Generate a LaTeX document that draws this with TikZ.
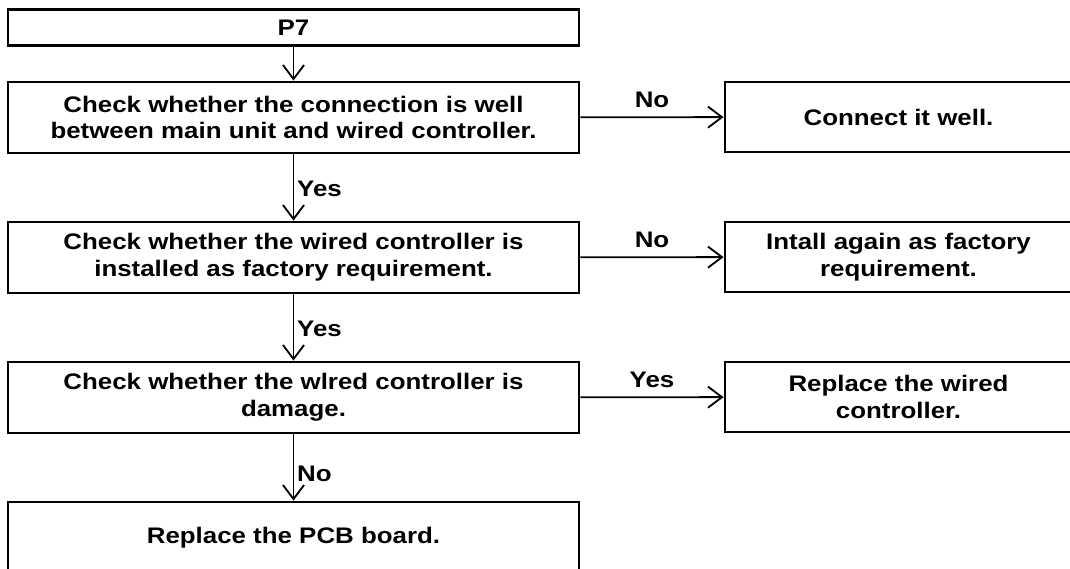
\documentclass[tikz,border=0pt]{standalone}
\usepackage{fontspec}
\setmainfont{Liberation Sans}[FakeStretch=1.15]
\usetikzlibrary{arrows.meta}

\tikzset{
  flowbox/.style={draw, line width=2pt, fill=white, align=center, inner sep=0pt,
    font=\bfseries\fontsize{16}{19}\selectfont},
  checkbox/.style={flowbox, minimum width=14.275cm, minimum height=1.775cm},
  startbox/.style={flowbox, minimum width=14.275cm, minimum height=0.9cm},
  fixbox/.style={flowbox, minimum width=8.675cm, minimum height=1.75cm},
  flowarrow/.style={line width=1.3pt, -{Straight Barb[length=10pt, width=15pt, line width=1.3pt]}},
  answer/.style={font=\bfseries\fontsize{16}{19}\selectfont, inner sep=2pt}
}

\begin{document}
\begin{tikzpicture}[x=0.025cm, y=-0.025cm]
  \useasboundingbox (0,0) rectangle (1070,569);

  \node[startbox] (p7) at (293.5,27.5) {P7};
  \node[checkbox] (chk1) at (293.5,117.5) {Check whether the connection is well\\between main unit and wired controller.};
  \node[checkbox] (chk2) at (293.5,257.5) {Check whether the wired controller is\\installed as factory requirement.};
  \node[checkbox] (chk3) at (293.5,397.5) {Check whether the wlred controller is\\damage.};
  \node[checkbox] (pcb) at (293.5,537.5) {Replace the PCB board.};

  \node[fixbox] (fix1) at (898.5,117) {Connect it well.};
  \node[fixbox] (fix2) at (898.5,257) {Intall again as factory\\requirement.};
  \node[fixbox] (fix3) at (898.5,397) {Replace the wired\\controller.};

  \draw[flowarrow] (p7) -- (chk1);
  \draw[flowarrow] (chk1) -- node[answer, right, pos=0.52] {Yes} (chk2);
  \draw[flowarrow] (chk2) -- node[answer, right, pos=0.52] {Yes} (chk3);
  \draw[flowarrow] (chk3) -- node[answer, right, pos=0.6] {No} (pcb);

  \draw[flowarrow] (chk1) -- node[answer, above=4pt] {No} (fix1);
  \draw[flowarrow] (chk2) -- node[answer, above=4pt] {No} (fix2);
  \draw[flowarrow] (chk3) -- node[answer, above=4pt] {Yes} (fix3);
\end{tikzpicture}
\end{document}
